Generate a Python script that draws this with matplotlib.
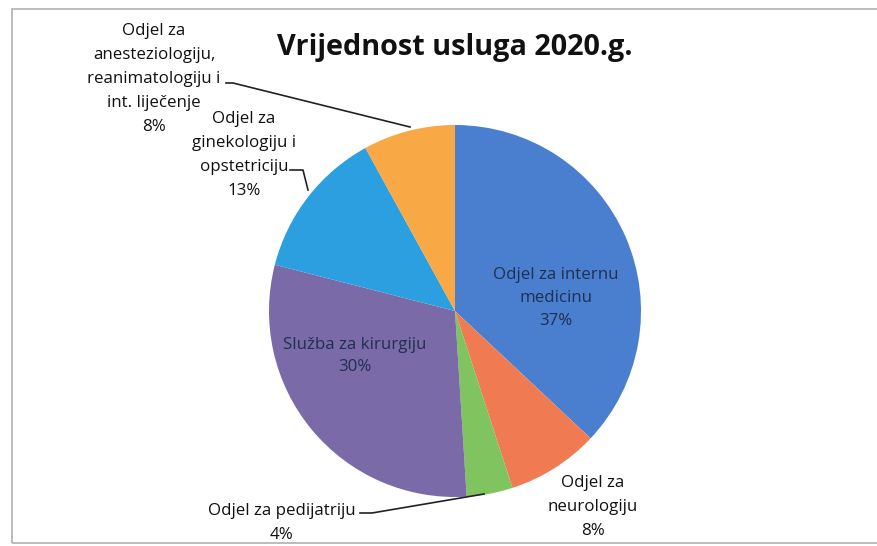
import matplotlib
matplotlib.use("Agg")
import matplotlib.pyplot as plt
from matplotlib.patches import Rectangle

categories = ["Odjel za internu\nmedicinu", "Odjel za\nneurologiju", "Odjel za pedijatriju",
              "Služba za kirurgiju", "Odjel za\nginekologiju i\nopstetriciju",
              "Odjel za\nanesteziologiju,\nreanimatologiju i\nint. liječenje"]
values = [37, 8, 4, 30, 13, 8]
colors = ["#4a7fcf", "#f07a52", "#7fc45e", "#7a6aa8", "#2c9fe0", "#f8a844"]
title = "Vrijednost usluga 2020.g."

W, H = 877, 546
fig = plt.figure(figsize=(W / 100, H / 100), dpi=100)
ax = fig.add_axes([0, 0, 1, 1])

FONT = ["Open Sans", "DejaVu Sans"]

def Y(y):
    return H - y

cx, cy, r = 455, Y(311), 186
ax.pie(values, colors=colors, startangle=90, counterclock=False,
       center=(cx, cy), radius=r, frame=True,
       wedgeprops=dict(linewidth=0))
ax.set_xlim(0, W)
ax.set_ylim(0, H)
ax.set_aspect("equal")
ax.axis("off")

# frame
ax.add_patch(Rectangle((12, Y(543)), W + 20, 543 - 9, fill=False,
                       edgecolor="#b0b0b0", linewidth=1.2, clip_on=False))

ax.text(455, Y(48), title, ha="center", va="center", fontsize=20.8,
        fontweight="bold", family=FONT, color="#111111")

lab = dict(ha="center", va="center", fontsize=12.2, family=FONT,
           linespacing=1.65, color="#111111")
inner = dict(ha="center", va="center", fontsize=12.2, family=FONT,
             linespacing=1.55, color="#1f3050")

pct = [f"{v}%" for v in values]
# inside labels
ax.text(556, Y(298), categories[0] + "\n" + pct[0], **inner)
ax.text(355, Y(356), categories[3] + "\n" + pct[3], **inner)
# outside labels
ax.text(593, Y(507), categories[1] + "\n" + pct[1], **lab)
ax.text(282, Y(523), categories[2] + "\n" + pct[2], **lab)
ax.text(244, Y(155), categories[4] + "\n" + pct[4], **lab)
ax.text(154, Y(79), categories[5] + "\n" + pct[5], **lab)

# leader lines
ax.plot([226, 233, 410], [Y(83), Y(83), Y(127)], color="#222222", lw=1.2)
ax.plot([290, 303, 308], [Y(170), Y(170), Y(190)], color="#222222", lw=1.2)
ax.plot([360, 372, 484], [Y(513), Y(513), Y(494)], color="#222222", lw=1.2)

fig.savefig("out.png", dpi=100, facecolor="white")
